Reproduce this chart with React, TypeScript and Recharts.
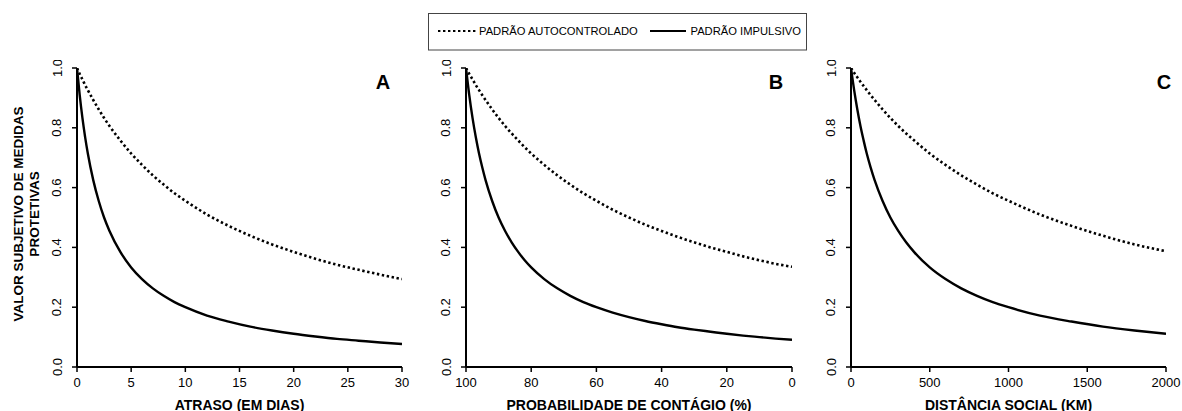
import React from "react";
import { LineChart, Line, XAxis, YAxis } from "recharts";

// ---- data ----
const delayDays = [0, 0.25, 0.5, 0.75, 1, 1.5, 2, 2.5, 3, 4, 5, 6, 7, 8, 9, 10, 12, 14, 16, 18, 20, 22, 24, 26, 28, 30];
const delaySelf = [1, 0.98, 0.962, 0.943, 0.926, 0.893, 0.862, 0.833, 0.806, 0.758, 0.714, 0.676, 0.641, 0.61, 0.581, 0.556, 0.51, 0.472, 0.439, 0.41, 0.385, 0.362, 0.342, 0.325, 0.309, 0.294];
const delayImp = [1, 0.909, 0.833, 0.769, 0.714, 0.625, 0.556, 0.5, 0.455, 0.385, 0.333, 0.294, 0.263, 0.238, 0.217, 0.2, 0.172, 0.152, 0.135, 0.122, 0.111, 0.102, 0.094, 0.088, 0.082, 0.077];

const probPct = [100, 99, 98, 97, 96, 95, 94, 92, 90, 88, 86, 84, 82, 80, 76, 72, 68, 64, 60, 55, 50, 45, 40, 35, 30, 25, 20, 15, 10, 5, 0];
const probSelf = [1, 0.98, 0.962, 0.943, 0.926, 0.909, 0.893, 0.862, 0.833, 0.806, 0.781, 0.758, 0.735, 0.714, 0.676, 0.641, 0.61, 0.581, 0.556, 0.526, 0.5, 0.476, 0.455, 0.435, 0.417, 0.4, 0.385, 0.37, 0.357, 0.345, 0.335];
const probImp = [1, 0.909, 0.833, 0.769, 0.714, 0.667, 0.625, 0.556, 0.5, 0.455, 0.417, 0.385, 0.357, 0.333, 0.294, 0.263, 0.238, 0.217, 0.2, 0.182, 0.167, 0.154, 0.143, 0.133, 0.125, 0.118, 0.111, 0.105, 0.1, 0.095, 0.091];

const distKm = [0, 10, 20, 30, 40, 50, 60, 80, 100, 125, 150, 200, 250, 300, 350, 400, 500, 600, 700, 800, 900, 1000, 1200, 1400, 1600, 1800, 2000];
const distSelf = [1, 0.992, 0.984, 0.976, 0.969, 0.962, 0.954, 0.94, 0.926, 0.909, 0.893, 0.862, 0.833, 0.806, 0.781, 0.758, 0.714, 0.676, 0.641, 0.61, 0.581, 0.556, 0.51, 0.472, 0.439, 0.41, 0.387];
const distImp = [1, 0.962, 0.926, 0.893, 0.862, 0.833, 0.806, 0.758, 0.714, 0.667, 0.625, 0.556, 0.5, 0.455, 0.417, 0.385, 0.333, 0.294, 0.263, 0.238, 0.217, 0.2, 0.172, 0.152, 0.135, 0.122, 0.111];

const yTicks = [0, 0.2, 0.4, 0.6, 0.8, 1.0];
const delayTicks = [0, 5, 10, 15, 20, 25, 30];
const probTicks = [100, 80, 60, 40, 20, 0];
const distTicks = [0, 500, 1000, 1500, 2000];

const legendSelf = "PADRÃO AUTOCONTROLADO";
const legendImp = "PADRÃO IMPULSIVO";
const yTitle1 = "VALOR SUBJETIVO DE MEDIDAS";
const yTitle2 = "PROTETIVAS";
const xTitles = ["ATRASO (EM DIAS)", "PROBABILIDADE DE CONTÁGIO (%)", "DISTÂNCIA SOCIAL (KM)"];
const panelLetters = ["A", "B", "C"];

const build = (xs: number[], self: number[], imp: number[]) =>
  xs.map((x, i) => ({ x, self: self[i], imp: imp[i] }));

const FONT = "'Liberation Sans', Arial, Helvetica, sans-serif";

const YTick = (props: any) => {
  const { x, y, payload } = props;
  const cx = x - 13;
  return (
    <text
      x={cx}
      y={y}
      transform={`rotate(-90 ${cx} ${y})`}
      textAnchor="middle"
      dominantBaseline="central"
      fontSize={13}
      fill="#000"
      fontFamily={FONT}
    >
      {Number(payload.value).toFixed(1)}
    </text>
  );
};

type PanelProps = {
  data: any[];
  domain: [number, number];
  ticks: number[];
  reversed?: boolean;
  left: number;
  width: number;
  marginLeft: number;
  marginRight: number;
};

const Panel = ({ data, domain, ticks, reversed, left, width, marginLeft, marginRight }: PanelProps) => (
  <div style={{ position: "absolute", left, top: 60 }}>
    <LineChart
      width={width}
      height={340}
      data={data}
      margin={{ top: 8, right: marginRight, bottom: 3, left: marginLeft }}
    >
      <XAxis
        type="number"
        dataKey="x"
        domain={domain}
        ticks={ticks}
        reversed={reversed}
        interval={0}
        height={30}
        axisLine={{ stroke: "#000", strokeWidth: 2 }}
        tickLine={{ stroke: "#000", strokeWidth: 1.5 }}
        tickSize={5}
        tickMargin={6}
        tick={{ fill: "#000", fontSize: 13, fontFamily: FONT }}
        allowDataOverflow
      />
      <YAxis
        type="number"
        domain={[0, 1]}
        ticks={yTicks}
        interval={0}
        width={35}
        axisLine={{ stroke: "#000", strokeWidth: 2 }}
        tickLine={{ stroke: "#000", strokeWidth: 1.5 }}
        tickSize={5}
        tickMargin={2}
        tick={<YTick />}
        allowDataOverflow
      />
      <Line
        type="monotone"
        dataKey="self"
        stroke="#000"
        strokeWidth={2.6}
        strokeDasharray="2.4 2.6"
        dot={false}
        activeDot={false}
        isAnimationActive={false}
      />
      <Line
        type="monotone"
        dataKey="imp"
        stroke="#000"
        strokeWidth={2.4}
        dot={false}
        activeDot={false}
        isAnimationActive={false}
      />
    </LineChart>
  </div>
);

export default function App() {
  const dataA = build(delayDays, delaySelf, delayImp);
  const dataB = build(probPct, probSelf, probImp);
  const dataC = build(distKm, distSelf, distImp);
  const letterX = [383, 776, 1164];
  const titleX = [239.5, 629, 1008.5];
  return (
    <div
      style={{
        position: "absolute",
        left: 0,
        top: 0,
        width: 1182,
        height: 411,
        overflow: "hidden",
        background: "#fff",
        fontFamily: FONT,
      }}
    >
      <Panel data={dataA} domain={[0, 30]} ticks={delayTicks} left={0} width={414} marginLeft={42} marginRight={12} />
      <Panel data={dataB} domain={[0, 100]} ticks={probTicks} reversed left={400} width={400} marginLeft={31} marginRight={8} />
      <Panel data={dataC} domain={[0, 2000]} ticks={distTicks} left={790} width={392} marginLeft={26} marginRight={16} />
      <svg
        width={1182}
        height={411}
        style={{ position: "absolute", left: 0, top: 0, pointerEvents: "none" }}
        fontFamily={FONT}
      >
        {/* legend */}
        <rect x={428.5} y={13.5} width={378} height={36.5} fill="none" stroke="#444" strokeWidth={1} />
        <line x1={438} y1={31} x2={477} y2={31} stroke="#000" strokeWidth={2.2} strokeDasharray="2.4 2.6" />
        <text x={479} y={35} fontSize={11.2} fill="#000">{legendSelf}</text>
        <line x1={650} y1={31} x2={686} y2={31} stroke="#000" strokeWidth={2} />
        <text x={690.5} y={35} fontSize={11.2} fill="#000">{legendImp}</text>
        {/* panel letters */}
        {panelLetters.map((l, i) => (
          <text key={l} x={letterX[i]} y={89} fontSize={20} fontWeight="bold" textAnchor="middle" fill="#000">
            {l}
          </text>
        ))}
        {/* x titles */}
        {xTitles.map((t, i) => (
          <text key={t} x={titleX[i]} y={409.5} fontSize={14} fontWeight="bold" textAnchor="middle" fill="#000">
            {t}
          </text>
        ))}
        {/* y title */}
        <text transform="translate(23.3,214) rotate(-90)" fontSize={13.5} fontWeight="bold" textAnchor="middle" fill="#000">
          {yTitle1}
        </text>
        <text transform="translate(39.3,214) rotate(-90)" fontSize={13.5} fontWeight="bold" textAnchor="middle" fill="#000">
          {yTitle2}
        </text>
      </svg>
    </div>
  );
}
